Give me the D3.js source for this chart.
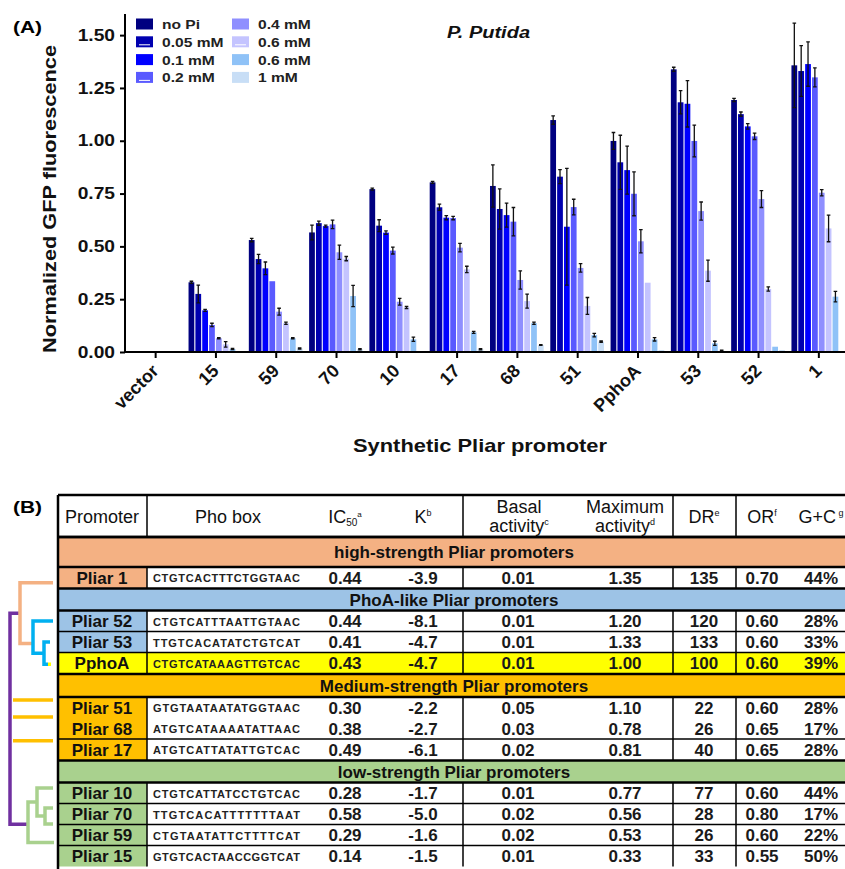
<!DOCTYPE html>
<html><head><meta charset="utf-8">
<script src="https://cdn.jsdelivr.net/npm/d3@7"></script>
<style>
body{margin:0;background:#fff;}
svg{display:block;font-family:"Liberation Sans",Arial,Helvetica,sans-serif;}
</style>
</head><body>
<svg id="chart" width="845" height="869"></svg>
<script>
// ---------- Panel A data ----------
const categories = ["vector","15","59","70","10","17","68","51","PphoA","53","52","1"];
const seriesNames = ["no Pi","0.05 mM","0.1 mM","0.2 mM","0.4 mM","0.6 mM","0.6 mM","1 mM"];
const seriesColors = ["#000080","#0000b0","#0000ff","#5a5aff","#8f8fff","#c4c4ff","#8fc2f7","#c8def6"];
const noPi   = [0,0.330,0.530,0.566,0.771,0.803,0.786,1.098,0.999,1.338,1.193,1.357];
const pi005  = [0,0.275,0.440,0.610,0.598,0.685,0.677,0.830,0.898,1.182,1.126,1.330];
const pi01   = [0,0.197,0.396,0.596,0.565,0.636,0.648,0.593,0.861,1.175,1.068,1.363];
const pi02   = [0,0.128,0.335,0.604,0.480,0.634,0.617,0.686,0.749,0.999,1.021,1.300];
const pi04   = [0,0.065,0.191,0.472,0.238,0.494,0.341,0.398,0.524,0.667,0.724,0.754];
const pi06   = [0,0.036,0.136,0.442,0.211,0.391,0.241,0.218,0.328,0.385,0.298,0.585];
const pi06b  = [0,0.014,0.065,0.265,0.060,0.093,0.136,0.080,0.060,0.041,0.025,0.262];
const pi1    = [0,0.000,0.017,0.013,0.000,0.013,0.033,0.049,0.009,0.006,0.009,0.000];
const errNoPi  = [0,0.005,0.008,0.035,0.005,0.005,0.100,0.020,0.040,0.010,0.008,0.200];
const err005   = [0,0.042,0.022,0.010,0.028,0.015,0.095,0.033,0.128,0.055,0.010,0.120];
const err01    = [0,0.005,0.030,0.005,0.008,0.010,0.057,0.276,0.114,0.110,0.013,0.105];
const err02    = [0,0.008,0.000,0.020,0.016,0.008,0.067,0.037,0.104,0.075,0.015,0.045];
const err04    = [0,0.003,0.016,0.034,0.016,0.020,0.043,0.020,0.055,0.043,0.040,0.015];
const err06    = [0,0.013,0.005,0.010,0.005,0.015,0.033,0.040,0.000,0.050,0.010,0.063];
const err06b   = [0,0.003,0.003,0.050,0.010,0.005,0.005,0.008,0.008,0.010,0.000,0.025];
const err1     = [0,0.000,0.003,0.003,0.000,0.003,0.002,0.003,0.000,0.003,0.000,0.000];
const yTicks = [0,0.25,0.5,0.75,1.0,1.25,1.5];

// ---------- Panel B data ----------
const promoters = ["Pliar 1","Pliar 52","Pliar 53","PphoA","Pliar 51","Pliar 68","Pliar 17","Pliar 10","Pliar 70","Pliar 59","Pliar 15"];
const phoBoxes = ["CTGTCACTTTCTGGTAAC","CTGTCATTTAATTGTAAC","TTGTCACATATCTGTCAT","CTGTCATAAAGTTGTCAC","GTGTAATAATATGGTAAC","ATGTCATAAAATATTAAC","ATGTCATTATATTGTCAC","CTGTCATTATCCTGTCAC","TTGTCACATTTTTTTAAT","CTGTAATATTCTTTTCAT","GTGTCACTAACCGGTCAT"];
const ic50 = ["0.44","0.44","0.41","0.43","0.30","0.38","0.49","0.28","0.58","0.29","0.14"];
const kVals = ["-3.9","-8.1","-4.7","-4.7","-2.2","-2.7","-6.1","-1.7","-5.0","-1.6","-1.5"];
const basal = ["0.01","0.01","0.01","0.01","0.05","0.03","0.02","0.01","0.02","0.02","0.01"];
const maxAct = ["1.35","1.20","1.33","1.00","1.10","0.78","0.81","0.77","0.56","0.53","0.33"];
const drVals = ["135","120","133","100","22","26","40","77","28","26","33"];
const orVals = ["0.70","0.60","0.60","0.60","0.60","0.65","0.65","0.60","0.80","0.60","0.55"];
const gcVals = ["44%","28%","33%","39%","28%","17%","28%","44%","17%","22%","50%"];
const rowGroup = [0,1,1,1,2,2,2,3,3,3,3];
const groupTitles = ["high-strength Pliar promoters","PhoA-like Pliar promoters","Medium-strength Pliar promoters","low-strength Pliar promoters"];
const groupColors = ["#f4b183","#9dc3e6","#ffc000","#a9d18e"];
const highlightRow = "PphoA";

(function(){
// ================= Panel A =================
const svg = d3.select("#chart");
const SX = 1.2;
const pL = 125, pR = 849, pT = 14, pB = 352;
const x0 = d3.scaleBand().domain(categories).range([pL+0.5, pR]);
const x1 = d3.scaleBand().domain(d3.range(seriesNames.length)).range([-27.4, 27.4]);
const y = d3.scaleLinear().domain([0,1.6]).range([pB, pT]);
const seriesVals = [noPi,pi005,pi01,pi02,pi04,pi06,pi06b,pi1];
const seriesErr = [errNoPi,err005,err01,err02,err04,err06,err06b,err1];

const bars = [];
categories.forEach((c,ci)=>{
  seriesVals.forEach((arr,si)=>{
    bars.push({c, si, v: arr[ci], e: seriesErr[si][ci]});
  });
});
const bw = x1.bandwidth()-1.1;
const gBars = svg.append("g");
gBars.selectAll("rect").data(bars.filter(d=>d.v>0)).join("rect")
  .attr("x", d=> x0(d.c)+x0.bandwidth()/2 + x1(d.si))
  .attr("width", bw)
  .attr("y", d=> y(d.v))
  .attr("height", d=> y(0)-y(d.v))
  .attr("fill", d=> seriesColors[d.si]);
const gErr = svg.append("g").attr("stroke","#111").attr("stroke-width",1.3).attr("fill","none");
bars.filter(d=>d.v>0 && d.e>0).forEach(d=>{
  const cxx = x0(d.c)+x0.bandwidth()/2 + x1(d.si) + bw/2;
  const y1 = y(d.v+d.e), y2 = y(Math.max(0,d.v-d.e));
  gErr.append("path").attr("d",`M${cxx},${y1}V${y2}M${cxx-1.8},${y1}H${cxx+1.8}M${cxx-1.8},${y2}H${cxx+1.8}`);
});

// axes
const yAxis = svg.append("g").attr("transform",`translate(${pL},0)`)
  .call(d3.axisLeft(y).tickValues(yTicks).tickFormat(d3.format(".2f")).tickSize(5).tickSizeOuter(0));
yAxis.select(".domain").attr("stroke","#000").attr("stroke-width",2).attr("d",`M0,${pB}V${pT}`);
yAxis.selectAll(".tick line").attr("stroke","#000").attr("stroke-width",2);
yAxis.selectAll(".tick text").attr("x",0).attr("transform","translate(-10,0) scale("+SX+",1)")
  .attr("font-size",16).attr("font-weight","bold").attr("fill","#111").attr("font-family","Liberation Sans, Arial, sans-serif");

const xAxis = svg.append("g").attr("transform",`translate(0,${pB})`)
  .call(d3.axisBottom(x0).tickSize(6).tickSizeOuter(0));
xAxis.select(".domain").attr("stroke","#000").attr("stroke-width",2).attr("d",`M${pL},0H${pR}`);
xAxis.selectAll(".tick line").attr("stroke","#000").attr("stroke-width",2);
xAxis.selectAll(".tick text").remove();
xAxis.selectAll(".tick").append("text")
  .attr("transform","translate(4,20) rotate(-45)")
  .attr("text-anchor","end").attr("font-size",18).attr("font-weight","bold").attr("fill","#111")
  .attr("font-family","Liberation Sans, Arial, sans-serif")
  .text(d=>d);

// titles
svg.append("text").attr("x",13).attr("y",33).attr("font-size",16).attr("font-weight","bold")
  .attr("textLength",29).attr("lengthAdjust","spacingAndGlyphs").text("(A)");
svg.append("text").attr("transform","translate(56,199) rotate(-90)").attr("text-anchor","middle")
  .attr("font-size",17.5).attr("font-weight","bold").attr("fill","#111")
  .attr("textLength",308).attr("lengthAdjust","spacingAndGlyphs").text("Normalized GFP fluorescence");
svg.append("text").attr("x",353).attr("y",452).attr("font-size",19).attr("font-weight","bold").attr("fill","#111")
  .attr("textLength",254).attr("lengthAdjust","spacingAndGlyphs").text("Synthetic Pliar promoter");
svg.append("text").attr("x",447).attr("y",38).attr("font-size",16).attr("font-weight","bold").attr("font-style","italic")
  .attr("fill","#111").attr("textLength",83).attr("lengthAdjust","spacingAndGlyphs").text("P. Putida");

// legend
const lg = svg.append("g");
seriesNames.forEach((n,i)=>{
  const col = Math.floor(i/4), row = i%4;
  const lx = 136 + col*96, ly = 18.5 + row*17.8;
  lg.append("rect").attr("x",lx).attr("y",ly).attr("width",17).attr("height",11).attr("fill",seriesColors[i]);
  if (i===1||i===3||i===5) lg.append("line").attr("x1",lx+3).attr("x2",lx+14).attr("y1",ly+8.5).attr("y2",ly+8.5).attr("stroke","#fff").attr("stroke-width",1);
  lg.append("text").attr("x",0).attr("y",0).attr("transform",`translate(${lx+26},${ly+10.5}) scale(${SX},1)`)
    .attr("font-size",13).attr("font-weight","bold").attr("fill","#222").text(n);
});

// ================= Panel B =================
svg.append("text").attr("x",13).attr("y",513).attr("font-size",16).attr("font-weight","bold")
  .attr("textLength",29).attr("lengthAdjust","spacingAndGlyphs").text("(B)");

const tL = 58, tR = 850;
const colLines = [147, 463, 673, 736];
const cx = {prom:102, ic:345, k:423, basal:518, max:625, dr:704, or:762, gc:821};
const headerTop = 495, headerH = 42;
const secH = [30,22,23,22];
const rowH = [21.5,21,21,21.5,21,21,21.5,21,21,21,21];

const tg = svg.append("g");
const lines = svg.append("g").attr("stroke","#000");
function hText(x,yy,parts,anchor){
  const t = tg.append("text").attr("x",x).attr("y",yy).attr("text-anchor",anchor||"middle").attr("font-size",18).attr("fill","#111");
  parts.forEach(p=>{ const s=t.append("tspan").text(p[0]); if(p[1]) s.attr("font-size",p[1]); if(p[2]!==undefined) s.attr("dy",p[2]); });
  return t;
}
hText(cx.prom, 523, [["Promoter"]]);
hText(228, 523, [["Pho box"]]);
hText(cx.ic, 523, [["IC"],["50",10,3],["a",8,-9]]);
hText(cx.k, 523, [["K"],["b",9,-7]]);
hText(cx.basal+1, 513, [["Basal"]]);
hText(cx.basal+1, 532, [["activity"],["c",9,-7]]);
hText(cx.max, 513, [["Maximum"]]);
hText(cx.max, 532, [["activity"],["d",9,-7]]);
hText(cx.dr, 523, [["DR"],["e",9,-7]]);
hText(cx.or, 523, [["OR"],["f",9,-7]]);
hText(cx.gc, 523, [["G+C"],[" g",9,-7]]);

let yy = headerTop + headerH;
const thick = [headerTop, yy];
const thinH = [];
const colSpanRanges = [[headerTop, yy]];
const rc = [];
let prevGroup = -1;
promoters.forEach((p,i)=>{
  const g = rowGroup[i];
  if (g!==prevGroup){
    const h = secH[g];
    tg.append("rect").attr("x",tL).attr("y",yy).attr("width",tR-tL).attr("height",h).attr("fill",groupColors[g]);
    tg.append("text").attr("x",(tL+tR)/2).attr("y",yy+h/2+6).attr("text-anchor","middle")
      .attr("font-size",17).attr("font-weight","bold").attr("fill","#111").text(groupTitles[g]);
    thick.push(yy); yy += h; thick.push(yy);
    prevGroup = g;
  } else if (!(p==="Pliar 68")) {
    thinH.push(yy);
  }
  const h = rowH[i];
  const isHi = p===highlightRow;
  tg.append("rect").attr("x",tL).attr("y",yy).attr("width",tR-tL).attr("height",h).attr("fill",isHi?"#ffff00":"#fff");
  tg.append("rect").attr("x",tL).attr("y",yy).attr("width",colLines[0]-tL).attr("height",h).attr("fill",isHi?"#ffff00":groupColors[g]);
  rc.push(yy + h/2);
  const by = Math.min(yy + h/2 + 6, 863);
  tg.append("text").attr("x",cx.prom).attr("y",by).attr("text-anchor","middle").attr("font-size",17).attr("font-weight","bold").attr("fill","#111").text(p);
  tg.append("text").attr("x",153).attr("y",by-1.5).attr("font-size",11).attr("font-weight","bold").attr("fill","#222")
    .attr("textLength",147).attr("lengthAdjust","spacing").text(phoBoxes[i]);
  [[cx.ic,ic50[i]],[cx.k,kVals[i]],[cx.basal,basal[i]],[cx.max,maxAct[i]],[cx.dr,drVals[i]],[cx.or,orVals[i]],[cx.gc,gcVals[i]]].forEach(([x,v])=>{
    tg.append("text").attr("x",x).attr("y",by).attr("text-anchor","middle").attr("font-size",17).attr("font-weight","bold").attr("fill","#1a1a1a").text(v);
  });
  colSpanRanges.push([yy, yy+h]);
  yy += h;
});
colSpanRanges.forEach(([a,b])=>{
  colLines.forEach(xl=>{
    lines.append("line").attr("x1",xl).attr("x2",xl).attr("y1",a).attr("y2",b).attr("stroke-width",1.5);
  });
});
lines.append("line").attr("x1",tL).attr("x2",tL).attr("y1",headerTop).attr("y2",869).attr("stroke-width",2.5);
thick.forEach(v=> lines.append("line").attr("x1",tL).attr("x2",tR).attr("y1",v).attr("y2",v).attr("stroke-width",2.4));
thinH.forEach(v=> lines.append("line").attr("x1",tL).attr("x2",tR).attr("y1",v).attr("y2",v).attr("stroke-width",1.5));

// dendrogram, positioned from the table row centres
const dg = svg.append("g").attr("fill","none").attr("stroke-width",3.5).attr("stroke-linecap","butt");
const sTop = rc[0]+5, sBot = rc[2]+1.5;
const cBot = (rc[2]+rc[3])/2 + 0.5;
const gTop = rc[7]-5, g70a = rc[8]-6, g70b = rc[8]+10, gBot = rc[9]+7.5;
const gMid1 = (gTop + (g70a+g70b)/2)/2, gOut = (gMid1 + gBot)/2;
dg.append("path").attr("stroke","#7030a0").attr("d",`M21,${(sTop+sBot)/2}H10V${gOut+2}H29`);
dg.append("path").attr("stroke","#f4b183").attr("d",`M53,${sTop}H20V${sBot}H33`);
dg.append("path").attr("stroke","#00b0f0").attr("d",`M53,${rc[1]}H33V${cBot}H44M50,${rc[2]}H44V${rc[3]+1}H48`);
dg.append("path").attr("stroke","#ffff00").attr("d",`M48,${rc[3]+1}H51`);
dg.append("path").attr("stroke","#ffc000").attr("d",`M13,${rc[4]-7.5}H53M13,${rc[5]-11.5}H53M13,${rc[6]-9}H53`);
dg.append("path").attr("stroke","#a9d18e").attr("d",`M53,${gTop}H37V${(g70a+g70b)/2}H45M53,${g70a}H45V${g70b}H53M37,${gMid1}H28V${gBot}H54`);
})();
</script>
</body></html>
